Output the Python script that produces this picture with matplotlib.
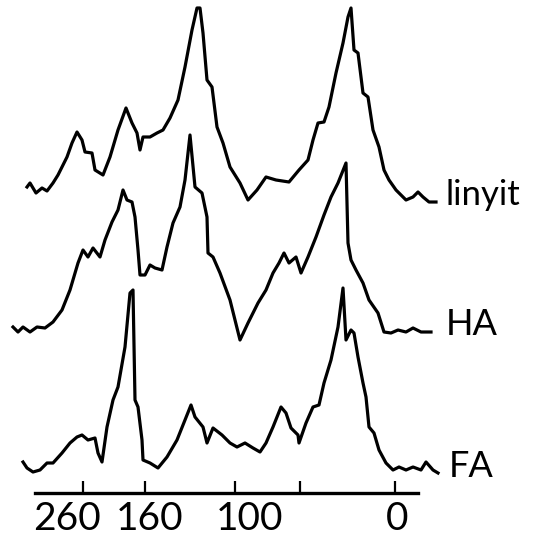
import matplotlib
matplotlib.use('Agg')
import matplotlib.pyplot as plt
import numpy as np

# traces: x = position along the shift axis, y = height
linyit_x = [27, 30, 36, 42, 47, 53, 58, 67, 72, 77, 82, 85, 92, 95, 103, 110, 118, 126, 132, 137,
            140, 143, 150, 157, 163, 170, 178, 185, 192, 197, 200, 203, 207, 212, 217, 223, 230, 240,
            248, 257, 266, 276, 289, 299, 308, 313, 318, 324, 329, 336, 343, 348, 351, 354, 358, 363,
            368, 373, 379, 384, 389, 396, 406, 413, 418, 423, 429, 436]
linyit_y = [356, 360, 350, 355, 352, 360, 368, 386, 400, 411, 403, 391, 390, 373, 368, 386, 413, 435,
            420, 410, 393, 406, 406, 410, 413, 425, 443, 476, 513, 535, 535, 510, 463, 456, 416, 400,
            376, 360, 343, 353, 366, 363, 361, 373, 383, 403, 420, 421, 436, 470, 500, 526, 535, 493,
            490, 450, 446, 413, 396, 373, 363, 353, 343, 346, 351, 346, 341, 341]

ha_x = [13, 18, 23, 30, 37, 45, 53, 62, 70, 78, 83, 88, 93, 100, 105, 112, 118, 123, 127, 132,
        135, 138, 140, 145, 150, 155, 162, 167, 173, 180, 185, 190, 195, 202, 207, 208, 213, 220,
        230, 240, 248, 258, 266, 273, 279, 284, 289, 296, 301, 308, 316, 324, 331, 338, 346, 348,
        351, 356, 363, 369, 378, 384, 391, 398, 406, 413, 421, 431]
ha_y = [216, 211, 216, 211, 216, 215, 221, 233, 253, 280, 293, 286, 295, 286, 303, 321, 333, 353,
        343, 341, 326, 293, 268, 268, 278, 275, 273, 296, 320, 336, 363, 408, 356, 350, 326, 290,
        286, 270, 243, 203, 220, 240, 253, 270, 280, 290, 280, 286, 270, 286, 306, 328, 346, 360,
        380, 300, 283, 273, 260, 243, 230, 211, 210, 213, 211, 215, 211, 211]

fa_x = [23, 27, 33, 40, 47, 53, 62, 70, 77, 82, 88, 95, 98, 102, 107, 113, 118, 125, 130, 133,
        135, 138, 142, 143, 150, 158, 167, 177, 185, 191, 195, 203, 207, 213, 222, 230, 237, 245,
        253, 260, 266, 273, 281, 286, 291, 298, 299, 306, 313, 319, 324, 331, 338, 343, 346, 351,
        354, 358, 363, 366, 369, 374, 379, 386, 393, 399, 406, 413, 421, 426, 433, 438]
fa_y = [81, 75, 71, 73, 80, 80, 90, 100, 106, 108, 103, 105, 90, 81, 116, 143, 156, 196, 250, 253,
        143, 136, 103, 83, 80, 75, 86, 103, 123, 138, 126, 116, 100, 115, 108, 100, 96, 100, 95, 91,
        100, 116, 136, 130, 115, 108, 100, 120, 136, 138, 160, 183, 216, 255, 203, 213, 210, 186,
        160, 146, 116, 110, 93, 80, 73, 76, 73, 76, 73, 81, 73, 70]

tick_labels = ['260', '160', '100', '0']
label_pos = [67, 150, 250, 397]
tick_marks = [83, 145, 235, 300, 395]

fig = plt.figure(figsize=(5.36, 5.43), dpi=100)
ax = fig.add_axes([0, 0, 1, 1])

for xs, ys in [(linyit_x, linyit_y), (ha_x, ha_y), (fa_x, fa_y)]:
    ax.plot(xs, ys, color='black', lw=2.3, solid_joinstyle='round')

ax.text(446, 338, 'linyit', fontsize=25, family='Lato', va='baseline')
ax.text(446, 208, 'HA', fontsize=26, family='Lato', va='baseline')
ax.text(449, 66, 'FA', fontsize=26, family='Lato', va='baseline')

ax.set_xlim(0, 536)
ax.set_ylim(0, 543)
for s in ['top', 'right', 'left']:
    ax.spines[s].set_visible(False)
ax.spines['bottom'].set_position(('data', 50))
ax.spines['bottom'].set_bounds(35, 418)
ax.spines['bottom'].set_linewidth(2.4)
ax.set_yticks([])
ax.set_xticks(label_pos)
ax.set_xticklabels(tick_labels, fontsize=28, family='Lato')
ax.tick_params(axis='x', which='major', length=0, pad=6)
ax.set_xticks(tick_marks, minor=True)
ax.tick_params(axis='x', which='minor', direction='in', length=9, width=1.6)

plt.savefig('out.png', dpi=100)
